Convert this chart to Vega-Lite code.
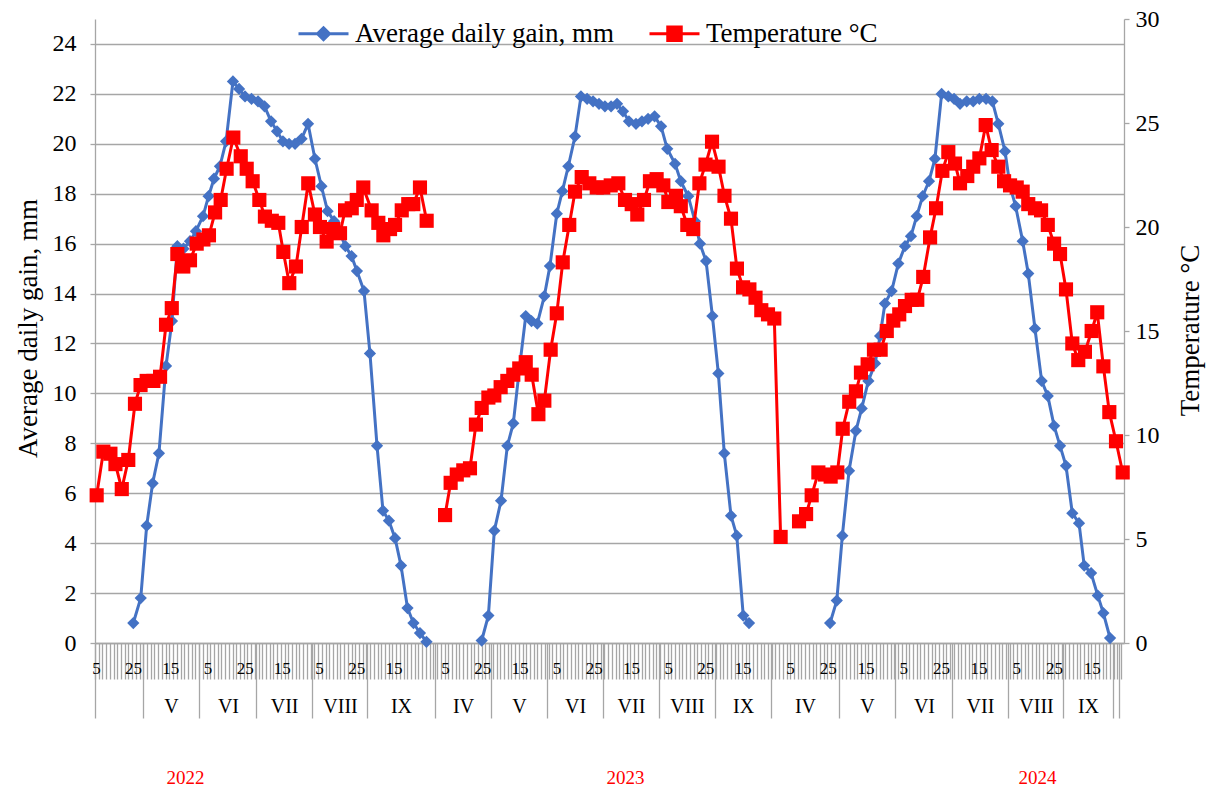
{
"$schema": "https://vega.github.io/schema/vega-lite/v6.json",
"width": 1029,
"height": 624,
"autosize": {"type": "none"},
"padding": {"left": 95, "top": 19, "right": 87, "bottom": 146},
"background": "white",
"config": {
  "font": "Liberation Serif",
  "view": {"stroke": null},
  "axis": {
    "labelFont": "Liberation Serif", "titleFont": "Liberation Serif",
    "labelColor": "#000000", "titleColor": "#000000", "titleFontWeight": "normal",
    "domainColor": "#a6a6a6", "tickColor": "#a6a6a6", "gridColor": "#a6a6a6",
    "domainWidth": 1.3, "tickWidth": 1.3, "gridWidth": 1.3,
    "labelFlush": false, "labelOverlap": false, "labelBound": false
  },
  "legend": {
    "direction": "horizontal",
    "labelFont": "Liberation Serif", "labelFontSize": 27, "labelColor": "#000000",
    "labelLimit": 500, "symbolSize": 2500, "symbolStrokeWidth": 3, "symbolOpacity": 1,
    "labelOffset": 5, "columnPadding": 29, "padding": 0
  }
},
"datasets": {
  "gain": [
    {"year":2022,"day":20.6,"gain":0.8},{"year":2022,"day":24.6,"gain":1.8},{"year":2022,"day":27.8,"gain":4.7},{"year":2022,"day":31.0,"gain":6.4},{"year":2022,"day":34.4,"gain":7.6},{"year":2022,"day":38.2,"gain":11.1},{"year":2022,"day":41.4,"gain":12.9},{"year":2022,"day":44.3,"gain":15.9},{"year":2022,"day":47.6,"gain":15.8},{"year":2022,"day":51.1,"gain":16.1},{"year":2022,"day":54.3,"gain":16.5},{"year":2022,"day":58.1,"gain":17.1},{"year":2022,"day":61.1,"gain":17.9},{"year":2022,"day":64.0,"gain":18.6},{"year":2022,"day":67.2,"gain":19.1},{"year":2022,"day":70.5,"gain":20.1},{"year":2022,"day":74.2,"gain":22.5},{"year":2022,"day":77.5,"gain":22.2},{"year":2022,"day":80.7,"gain":21.9},{"year":2022,"day":84.2,"gain":21.8},{"year":2022,"day":87.7,"gain":21.7},{"year":2022,"day":91.2,"gain":21.5},{"year":2022,"day":94.7,"gain":20.9},{"year":2022,"day":97.9,"gain":20.5},{"year":2022,"day":101.1,"gain":20.1},{"year":2022,"day":104.4,"gain":20.0},{"year":2022,"day":107.6,"gain":20.0},{"year":2022,"day":111.1,"gain":20.2},{"year":2022,"day":114.6,"gain":20.8},{"year":2022,"day":118.3,"gain":19.4},{"year":2022,"day":121.8,"gain":18.3},{"year":2022,"day":125.1,"gain":17.3},{"year":2022,"day":128.6,"gain":16.9},{"year":2022,"day":131.8,"gain":16.4},{"year":2022,"day":134.7,"gain":15.9},{"year":2022,"day":138.0,"gain":15.5},{"year":2022,"day":140.9,"gain":14.9},{"year":2022,"day":144.7,"gain":14.1},{"year":2022,"day":147.9,"gain":11.6},{"year":2022,"day":151.7,"gain":7.9},{"year":2022,"day":154.9,"gain":5.3},{"year":2022,"day":158.1,"gain":4.9},{"year":2022,"day":161.4,"gain":4.2},{"year":2022,"day":164.6,"gain":3.1},{"year":2022,"day":168.1,"gain":1.4},{"year":2022,"day":171.3,"gain":0.8},{"year":2022,"day":174.8,"gain":0.4},{"year":2022,"day":178.3,"gain":0.05},
    {"year":2023,"day":208.0,"gain":0.1},{"year":2023,"day":211.6,"gain":1.1},{"year":2023,"day":214.8,"gain":4.5},{"year":2023,"day":218.4,"gain":5.7},{"year":2023,"day":221.8,"gain":7.9},{"year":2023,"day":225.0,"gain":8.8},{"year":2023,"day":228.3,"gain":11.0},{"year":2023,"day":231.7,"gain":13.1},{"year":2023,"day":234.8,"gain":12.9},{"year":2023,"day":237.9,"gain":12.8},{"year":2023,"day":241.7,"gain":13.9},{"year":2023,"day":244.7,"gain":15.1},{"year":2023,"day":248.4,"gain":17.2},{"year":2023,"day":251.4,"gain":18.1},{"year":2023,"day":254.6,"gain":19.1},{"year":2023,"day":258.2,"gain":20.3},{"year":2023,"day":261.4,"gain":21.9},{"year":2023,"day":264.7,"gain":21.8},{"year":2023,"day":267.9,"gain":21.7},{"year":2023,"day":271.1,"gain":21.6},{"year":2023,"day":274.3,"gain":21.5},{"year":2023,"day":277.6,"gain":21.5},{"year":2023,"day":280.8,"gain":21.6},{"year":2023,"day":284.0,"gain":21.3},{"year":2023,"day":287.2,"gain":20.9},{"year":2023,"day":291.0,"gain":20.8},{"year":2023,"day":294.2,"gain":20.9},{"year":2023,"day":297.5,"gain":21.0},{"year":2023,"day":301.0,"gain":21.1},{"year":2023,"day":304.5,"gain":20.7},{"year":2023,"day":307.8,"gain":19.8},{"year":2023,"day":312.0,"gain":19.2},{"year":2023,"day":315.1,"gain":18.5},{"year":2023,"day":319.1,"gain":17.9},{"year":2023,"day":322.7,"gain":16.9},{"year":2023,"day":325.4,"gain":16.0},{"year":2023,"day":328.7,"gain":15.3},{"year":2023,"day":332.1,"gain":13.1},{"year":2023,"day":335.3,"gain":10.8},{"year":2023,"day":338.5,"gain":7.6},{"year":2023,"day":342.1,"gain":5.1},{"year":2023,"day":345.2,"gain":4.3},{"year":2023,"day":348.7,"gain":1.1},{"year":2023,"day":351.8,"gain":0.8},
    {"year":2024,"day":395.4,"gain":0.8},{"year":2024,"day":399.0,"gain":1.7},{"year":2024,"day":402.0,"gain":4.3},{"year":2024,"day":405.6,"gain":6.9},{"year":2024,"day":409.3,"gain":8.5},{"year":2024,"day":412.4,"gain":9.4},{"year":2024,"day":416.0,"gain":10.5},{"year":2024,"day":419.6,"gain":11.2},{"year":2024,"day":422.3,"gain":12.3},{"year":2024,"day":424.9,"gain":13.6},{"year":2024,"day":428.5,"gain":14.1},{"year":2024,"day":432.1,"gain":15.2},{"year":2024,"day":435.7,"gain":15.9},{"year":2024,"day":438.9,"gain":16.3},{"year":2024,"day":442.0,"gain":17.1},{"year":2024,"day":445.2,"gain":17.9},{"year":2024,"day":448.6,"gain":18.5},{"year":2024,"day":451.8,"gain":19.4},{"year":2024,"day":455.4,"gain":22.0},{"year":2024,"day":459.0,"gain":21.9},{"year":2024,"day":462.1,"gain":21.8},{"year":2024,"day":465.3,"gain":21.6},{"year":2024,"day":468.9,"gain":21.7},{"year":2024,"day":472.4,"gain":21.7},{"year":2024,"day":475.7,"gain":21.8},{"year":2024,"day":479.3,"gain":21.8},{"year":2024,"day":482.7,"gain":21.7},{"year":2024,"day":485.9,"gain":20.8},{"year":2024,"day":489.5,"gain":19.7},{"year":2024,"day":492.2,"gain":18.3},{"year":2024,"day":495.2,"gain":17.5},{"year":2024,"day":499.0,"gain":16.1},{"year":2024,"day":502.0,"gain":14.8},{"year":2024,"day":505.6,"gain":12.6},{"year":2024,"day":509.2,"gain":10.5},{"year":2024,"day":512.5,"gain":9.9},{"year":2024,"day":515.9,"gain":8.7},{"year":2024,"day":519.1,"gain":7.9},{"year":2024,"day":522.3,"gain":7.1},{"year":2024,"day":525.7,"gain":5.2},{"year":2024,"day":529.3,"gain":4.8},{"year":2024,"day":532.1,"gain":3.1},{"year":2024,"day":535.8,"gain":2.8},{"year":2024,"day":539.4,"gain":1.9},{"year":2024,"day":542.4,"gain":1.2},{"year":2024,"day":546.0,"gain":0.2}
  ],
  "temp": [
    {"year":2022,"day":0.9,"temp":7.1},{"year":2022,"day":4.5,"temp":9.2},{"year":2022,"day":8.3,"temp":9.1},{"year":2022,"day":11.0,"temp":8.6},{"year":2022,"day":14.4,"temp":7.4},{"year":2022,"day":17.9,"temp":8.8},{"year":2022,"day":21.5,"temp":11.5},{"year":2022,"day":24.5,"temp":12.4},{"year":2022,"day":27.8,"temp":12.6},{"year":2022,"day":31.4,"temp":12.6},{"year":2022,"day":35.0,"temp":12.8},{"year":2022,"day":38.2,"temp":15.3},{"year":2022,"day":41.3,"temp":16.1},{"year":2022,"day":44.3,"temp":18.7},{"year":2022,"day":47.5,"temp":18.1},{"year":2022,"day":51.1,"temp":18.4},{"year":2022,"day":54.7,"temp":19.2},{"year":2022,"day":58.3,"temp":19.4},{"year":2022,"day":61.3,"temp":19.6},{"year":2022,"day":64.6,"temp":20.7},{"year":2022,"day":67.6,"temp":21.3},{"year":2022,"day":70.8,"temp":22.8},{"year":2022,"day":74.4,"temp":24.3},{"year":2022,"day":78.4,"temp":23.4},{"year":2022,"day":81.6,"temp":22.8},{"year":2022,"day":84.8,"temp":22.2},{"year":2022,"day":88.4,"temp":21.3},{"year":2022,"day":91.4,"temp":20.5},{"year":2022,"day":95.1,"temp":20.3},{"year":2022,"day":98.6,"temp":20.2},{"year":2022,"day":101.3,"temp":18.8},{"year":2022,"day":104.5,"temp":17.3},{"year":2022,"day":108.1,"temp":18.1},{"year":2022,"day":111.2,"temp":20.0},{"year":2022,"day":114.7,"temp":22.1},{"year":2022,"day":118.3,"temp":20.6},{"year":2022,"day":121.0,"temp":20.0},{"year":2022,"day":124.6,"temp":19.3},{"year":2022,"day":128.2,"temp":19.9},{"year":2022,"day":131.8,"temp":19.7},{"year":2022,"day":134.5,"temp":20.8},{"year":2022,"day":138.1,"temp":20.9},{"year":2022,"day":140.8,"temp":21.3},{"year":2022,"day":144.3,"temp":21.9},{"year":2022,"day":148.8,"temp":20.8},{"year":2022,"day":152.4,"temp":20.2},{"year":2022,"day":155.1,"temp":19.6},{"year":2022,"day":158.7,"temp":19.9},{"year":2022,"day":161.4,"temp":20.1},{"year":2022,"day":165.0,"temp":20.8},{"year":2022,"day":168.5,"temp":21.1},{"year":2022,"day":171.2,"temp":21.1},{"year":2022,"day":174.8,"temp":21.9},{"year":2022,"day":178.4,"temp":20.3},
    {"year":2023,"day":188.3,"temp":6.15},{"year":2023,"day":191.3,"temp":7.7},{"year":2023,"day":194.6,"temp":8.1},{"year":2023,"day":198.1,"temp":8.3},{"year":2023,"day":201.7,"temp":8.4},{"year":2023,"day":204.9,"temp":10.5},{"year":2023,"day":208.0,"temp":11.3},{"year":2023,"day":211.6,"temp":11.8},{"year":2023,"day":214.8,"temp":11.9},{"year":2023,"day":218.2,"temp":12.3},{"year":2023,"day":221.8,"temp":12.6},{"year":2023,"day":225.0,"temp":12.9},{"year":2023,"day":228.2,"temp":13.2},{"year":2023,"day":231.7,"temp":13.5},{"year":2023,"day":234.9,"temp":12.9},{"year":2023,"day":238.5,"temp":11.0},{"year":2023,"day":241.7,"temp":11.65},{"year":2023,"day":245.1,"temp":14.1},{"year":2023,"day":248.4,"temp":15.85},{"year":2023,"day":251.6,"temp":18.3},{"year":2023,"day":255.1,"temp":20.1},{"year":2023,"day":258.2,"temp":21.7},{"year":2023,"day":261.8,"temp":22.4},{"year":2023,"day":265.9,"temp":22.1},{"year":2023,"day":269.9,"temp":21.9},{"year":2023,"day":273.4,"temp":21.9},{"year":2023,"day":277.4,"temp":22.0},{"year":2023,"day":281.5,"temp":22.1},{"year":2023,"day":285.1,"temp":21.3},{"year":2023,"day":288.7,"temp":21.1},{"year":2023,"day":291.7,"temp":20.6},{"year":2023,"day":295.3,"temp":21.3},{"year":2023,"day":298.5,"temp":22.2},{"year":2023,"day":302.1,"temp":22.3},{"year":2023,"day":305.7,"temp":22.0},{"year":2023,"day":308.4,"temp":21.2},{"year":2023,"day":312.5,"temp":21.5},{"year":2023,"day":315.1,"temp":21.0},{"year":2023,"day":318.6,"temp":20.1},{"year":2023,"day":321.8,"temp":19.9},{"year":2023,"day":325.1,"temp":22.1},{"year":2023,"day":328.4,"temp":23.0},{"year":2023,"day":331.9,"temp":24.1},{"year":2023,"day":335.4,"temp":22.9},{"year":2023,"day":338.6,"temp":21.5},{"year":2023,"day":342.1,"temp":20.4},{"year":2023,"day":345.3,"temp":18.0},{"year":2023,"day":348.6,"temp":17.1},{"year":2023,"day":352.0,"temp":17.0},{"year":2023,"day":355.3,"temp":16.6},{"year":2023,"day":358.4,"temp":16.0},{"year":2023,"day":362.0,"temp":15.8},{"year":2023,"day":365.4,"temp":15.6},{"year":2023,"day":368.8,"temp":5.1},
    {"year":2024,"day":378.7,"temp":5.85},{"year":2024,"day":382.5,"temp":6.2},{"year":2024,"day":385.5,"temp":7.1},{"year":2024,"day":389.1,"temp":8.2},{"year":2024,"day":392.7,"temp":8.1},{"year":2024,"day":395.7,"temp":8.0},{"year":2024,"day":399.3,"temp":8.2},{"year":2024,"day":402.2,"temp":10.3},{"year":2024,"day":405.7,"temp":11.6},{"year":2024,"day":409.3,"temp":12.1},{"year":2024,"day":412.0,"temp":13.0},{"year":2024,"day":415.6,"temp":13.4},{"year":2024,"day":419.0,"temp":14.1},{"year":2024,"day":422.6,"temp":14.1},{"year":2024,"day":425.9,"temp":15.0},{"year":2024,"day":429.4,"temp":15.5},{"year":2024,"day":432.6,"temp":15.8},{"year":2024,"day":435.7,"temp":16.2},{"year":2024,"day":439.3,"temp":16.5},{"year":2024,"day":442.3,"temp":16.5},{"year":2024,"day":445.5,"temp":17.6},{"year":2024,"day":449.2,"temp":19.5},{"year":2024,"day":452.4,"temp":20.9},{"year":2024,"day":455.8,"temp":22.7},{"year":2024,"day":459.0,"temp":23.6},{"year":2024,"day":462.6,"temp":23.05},{"year":2024,"day":465.3,"temp":22.1},{"year":2024,"day":469.2,"temp":22.45},{"year":2024,"day":472.4,"temp":22.9},{"year":2024,"day":475.7,"temp":23.3},{"year":2024,"day":479.1,"temp":24.9},{"year":2024,"day":482.3,"temp":23.7},{"year":2024,"day":485.9,"temp":22.9},{"year":2024,"day":489.0,"temp":22.2},{"year":2024,"day":492.2,"temp":22.0},{"year":2024,"day":495.8,"temp":21.9},{"year":2024,"day":499.0,"temp":21.7},{"year":2024,"day":502.0,"temp":21.1},{"year":2024,"day":505.6,"temp":20.9},{"year":2024,"day":508.9,"temp":20.8},{"year":2024,"day":512.5,"temp":20.1},{"year":2024,"day":515.9,"temp":19.2},{"year":2024,"day":519.1,"temp":18.7},{"year":2024,"day":522.3,"temp":17.0},{"year":2024,"day":525.7,"temp":14.4},{"year":2024,"day":528.9,"temp":13.6},{"year":2024,"day":532.5,"temp":14.0},{"year":2024,"day":536.1,"temp":15.0},{"year":2024,"day":539.1,"temp":15.9},{"year":2024,"day":542.4,"temp":13.3},{"year":2024,"day":545.6,"temp":11.1},{"year":2024,"day":549.2,"temp":9.7},{"year":2024,"day":552.8,"temp":8.2}
  ],
  "monthBounds": [
    {"boundary":0},{"boundary":26.0},{"boundary":56.1},{"boundary":86.4},{"boundary":116.6},{"boundary":146.5},{"boundary":182.9},{"boundary":213.0},{"boundary":243.1},{"boundary":273.3},{"boundary":303.4},{"boundary":333.5},{"boundary":363.6},{"boundary":400.4},{"boundary":430.3},{"boundary":461.0},{"boundary":491.1},{"boundary":520.7},{"boundary":547.4},{"boundary":551.0}
  ],
  "months": [
    {"month":"V","mid":40.9},{"month":"VI","mid":71.5},{"month":"VII","mid":101.7},{"month":"VIII","mid":131.8},{"month":"IX","mid":164.6},
    {"month":"IV","mid":198.0},{"month":"V","mid":228.1},{"month":"VI","mid":258.2},{"month":"VII","mid":288.3},{"month":"VIII","mid":318.4},{"month":"IX","mid":348.6},
    {"month":"IV","mid":381.9},{"month":"V","mid":415.3},{"month":"VI","mid":445.9},{"month":"VII","mid":476.0},{"month":"VIII","mid":506.2},{"month":"IX","mid":534.1}
  ],
  "years": [
    {"season":"2022","pos":48.4},{"season":"2023","pos":285.1},{"season":"2024","pos":506.7}
  ],
  "legendRows": []
},
"layer": [
  {
    "data": {"name": "monthBounds"},
    "mark": {"type": "point", "opacity": 0},
    "encoding": {
      "x": {"field": "boundary", "type": "quantitative",
        "scale": {"domain": [0, 553.5], "nice": false, "zero": false},
        "axis": {"orient": "bottom", "title": null, "values": [0,26.0,56.1,86.4,116.6,146.5,182.9,213.0,243.1,273.3,303.4,333.5,363.6,400.4,430.3,461.0,491.1,520.7,547.4,551.0],
          "labels": false, "domain": false, "grid": false, "ticks": true, "tickSize": 75}}
    }
  },
  {
    "data": {"name": "months"},
    "mark": {"type": "point", "opacity": 0},
    "encoding": {
      "x": {"field": "mid", "type": "quantitative",
        "scale": {"domain": [0, 553.5], "nice": false, "zero": false},
        "axis": {"orient": "bottom", "title": null, "values": [40.9,71.5,101.7,131.8,164.6,198.0,228.1,258.2,288.3,318.4,348.6,381.9,415.3,445.9,476.0,506.2,534.1],
          "labelExpr": "datum.value < 55 ? 'V' : datum.value < 85 ? 'VI' : datum.value < 115 ? 'VII' : datum.value < 145 ? 'VIII' : datum.value < 180 ? 'IX' : datum.value < 210 ? 'IV' : datum.value < 240 ? 'V' : datum.value < 270 ? 'VI' : datum.value < 300 ? 'VII' : datum.value < 330 ? 'VIII' : datum.value < 365 ? 'IX' : datum.value < 400 ? 'IV' : datum.value < 430 ? 'V' : datum.value < 460 ? 'VI' : datum.value < 490 ? 'VII' : datum.value < 520 ? 'VIII' : 'IX'",
          "ticks": false, "tickSize": 0, "domain": false, "grid": false,
          "labelPadding": 63, "labelBaseline": "middle", "labelFontSize": 20}}
    }
  },
  {
    "data": {"name": "years"},
    "mark": {"type": "point", "opacity": 0},
    "encoding": {
      "x": {"field": "pos", "type": "quantitative",
        "scale": {"domain": [0, 553.5], "nice": false, "zero": false},
        "axis": {"orient": "bottom", "title": null, "values": [48.4, 285.1, 506.7],
          "labelExpr": "datum.value < 150 ? '2022' : datum.value < 400 ? '2023' : '2024'",
          "ticks": false, "tickSize": 0, "domain": false, "grid": false,
          "labelPadding": 134, "labelBaseline": "middle", "labelFontSize": 19, "labelColor": "#FF0000"}}
    }
  },
  {
    "data": {"name": "gain"},
    "mark": {"type": "line", "color": "#4472C4", "strokeWidth": 3, "strokeJoin": "round", "strokeCap": "round",
      "point": {"shape": "diamond", "size": 150, "filled": true, "color": "#4472C4"}},
    "encoding": {
      "x": {"field": "day", "type": "quantitative",
        "scale": {"domain": [0, 553.5], "nice": false, "zero": false},
        "axis": {"orient": "bottom", "title": null, "tickCount": 277, "labels": false, "domain": true, "grid": false, "ticks": true, "tickSize": 36}},
      "y": {"field": "gain", "type": "quantitative",
        "scale": {"domain": [0, 25], "nice": false, "zero": true},
        "axis": {"orient": "left", "values": [0,2,4,6,8,10,12,14,16,18,20,22,24], "grid": true, "tickSize": 5,
          "labelFontSize": 24, "labelPadding": 14,
          "title": "Average daily gain, mm", "titleFontSize": 27, "titleX": -67, "titleY": 309,
          "titleAngle": -90, "titleBaseline": "middle", "titleAlign": "center"}},
      "detail": {"field": "year", "type": "nominal"}
    }
  },
  {
    "data": {"name": "temp"},
    "mark": {"type": "line", "color": "#FF0000", "strokeWidth": 3, "strokeJoin": "round", "strokeCap": "round",
      "point": {"shape": "square", "size": 200, "filled": true, "color": "#FF0000"}},
    "encoding": {
      "x": {"field": "day", "type": "quantitative",
        "scale": {"domain": [0, 553.5], "nice": false, "zero": false},
        "axis": {"orient": "bottom", "title": null,
          "values": [0.5,20.5,40.5,60.5,80.5,100.5,120.5,140.5,160.5,188.3,208.3,228.3,248.3,268.3,288.3,308.3,328.3,348.3,373.9,394.2,414.5,434.7,455.0,475.2,495.5,515.8,536.1],
          "labelExpr": "round((datum.value - (datum.value < 180 ? 0.5 : datum.value < 365 ? 188.3 : 373.9)) / 20.1) % 3 == 0 ? '5' : round((datum.value - (datum.value < 180 ? 0.5 : datum.value < 365 ? 188.3 : 373.9)) / 20.1) % 3 == 1 ? '25' : '15'",
          "ticks": false, "tickSize": 0, "domain": false, "grid": false,
          "labelPadding": 25, "labelBaseline": "middle", "labelFontSize": 17}},
      "y": {"field": "temp", "type": "quantitative",
        "scale": {"domain": [0, 30], "nice": false, "zero": true},
        "axis": {"orient": "right", "values": [0,5,10,15,20,25,30], "grid": false, "tickSize": 5,
          "labelFontSize": 24, "labelPadding": 6,
          "title": "Temperature °C", "titleFontSize": 27, "titleX": 66, "titleY": 311,
          "titleAngle": -90, "titleBaseline": "middle", "titleAlign": "center"}},
      "detail": {"field": "year", "type": "nominal"}
    }
  },
  {
    "data": {"name": "legendRows"},
    "mark": {"type": "point", "filled": true, "strokeWidth": 3},
    "encoding": {
      "shape": {"field": "series", "type": "nominal",
        "scale": {"domain": ["Average daily gain, mm", "Temperature °C"], "range": ["M-1,0H1M0,-0.24L0.24,0L0,0.24L-0.24,0Z", "M-1,0H1M-0.27,-0.27H0.27V0.27H-0.27Z"]},
        "legend": {"title": null, "orient": "none", "legendX": 202, "legendY": -12, "direction": "horizontal"}},
      "fill": {"field": "series", "type": "nominal",
        "scale": {"domain": ["Average daily gain, mm", "Temperature °C"], "range": ["#4472C4", "#FF0000"]},
        "legend": {"title": null, "orient": "none", "legendX": 202, "legendY": -12, "direction": "horizontal"}},
      "stroke": {"field": "series", "type": "nominal",
        "scale": {"domain": ["Average daily gain, mm", "Temperature °C"], "range": ["#4472C4", "#FF0000"]},
        "legend": {"title": null, "orient": "none", "legendX": 202, "legendY": -12, "direction": "horizontal"}}
    }
  }
],
"resolve": {"scale": {"x": "independent", "y": "independent"}, "axis": {"x": "independent", "y": "independent"}}
}
